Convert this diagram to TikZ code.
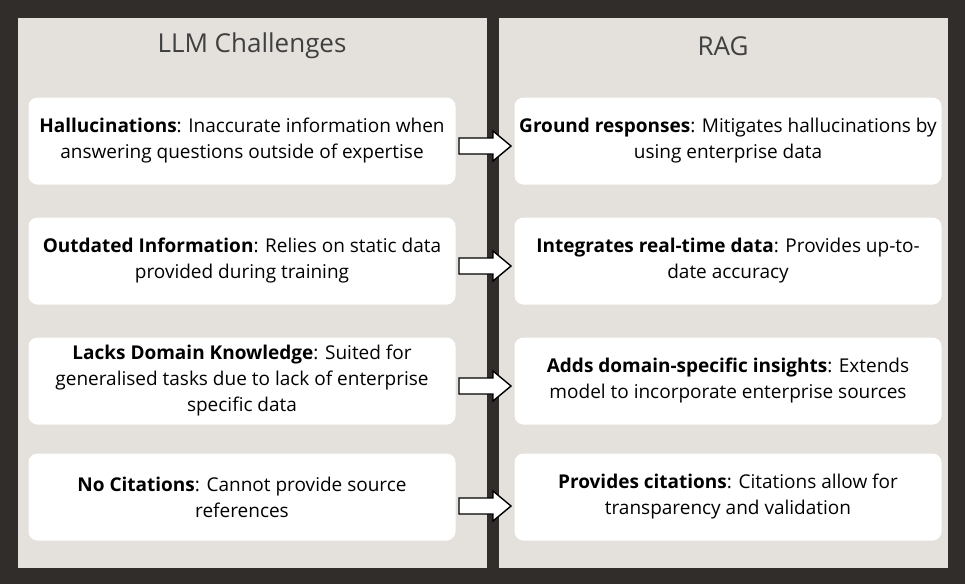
\documentclass[tikz,border=0pt]{standalone}
\usepackage{fontspec}
\setmainfont{Open Sans}
\definecolor{bgdark}{HTML}{312D2A}
\definecolor{panelgray}{HTML}{E4E1DC}
\tikzset{
  panel/.style={fill=panelgray, draw=none},
  itembox/.style={fill=white, rounded corners=9pt, minimum width=427pt, minimum height=87pt,
    align=center, font=\fontsize{19}{26}\selectfont, inner sep=2pt},
  paneltitle/.style={font=\fontsize{26}{30}\selectfont, text=black!75},
  blockarrow/.style={draw=black, fill=white, line width=1.4pt, line join=miter}
}
\begin{document}
\begin{tikzpicture}[x=1pt,y=-1pt]
	\fill[bgdark] (0,0) rectangle (965,584);
	\useasboundingbox (0,0) rectangle (965,584);
	% panels
	\fill[panel] (18,18) rectangle (487,568);
	\fill[panel] (499,18) rectangle (948,568);
	\node[paneltitle] (tleft) at (252,46) {LLM Challenges};
	\node[paneltitle] (tright) at (723,46) {RAG};
	% left column
	\node[itembox] (l1) at (242,141) {\textbf{Hallucinations}: Inaccurate information when\\answering questions outside of expertise};
	\node[itembox] (l2) at (242,261) {\textbf{Outdated Information}: Relies on static data\\provided during training};
	\node[itembox] (l3) at (242,381) {\textbf{Lacks Domain Knowledge}: Suited for\\generalised tasks due to lack of enterprise\\specific data};
	\node[itembox] (l4) at (242,497) {\textbf{No Citations}: Cannot provide source\\references};
	% right column
	\node[itembox] (r1) at (728,141) {\textbf{Ground responses}: Mitigates hallucinations by\\using enterprise data};
	\node[itembox] (r2) at (728,261) {\textbf{Integrates real-time data}: Provides up-to-\\date accuracy};
	\node[itembox] (r3) at (728,381) {\textbf{Adds domain-specific insights}: Extends\\model to incorporate enterprise sources};
	\node[itembox] (r4) at (728,497) {\textbf{Provides citations}: Citations allow for\\transparency and validation};
	% arrows between columns
	\foreach \i/\y in {1/146,2/266,3/386,4/506} {
		\coordinate (arr\i) at (459,\y);
		\draw[blockarrow] (arr\i) ++(0,-8) -- ++(34,0) -- ++(0,-7) -- ++(18,15)
			-- ++(-18,15) -- ++(0,-7) -- ++(-34,0) -- cycle;
	}
\end{tikzpicture}
\end{document}
